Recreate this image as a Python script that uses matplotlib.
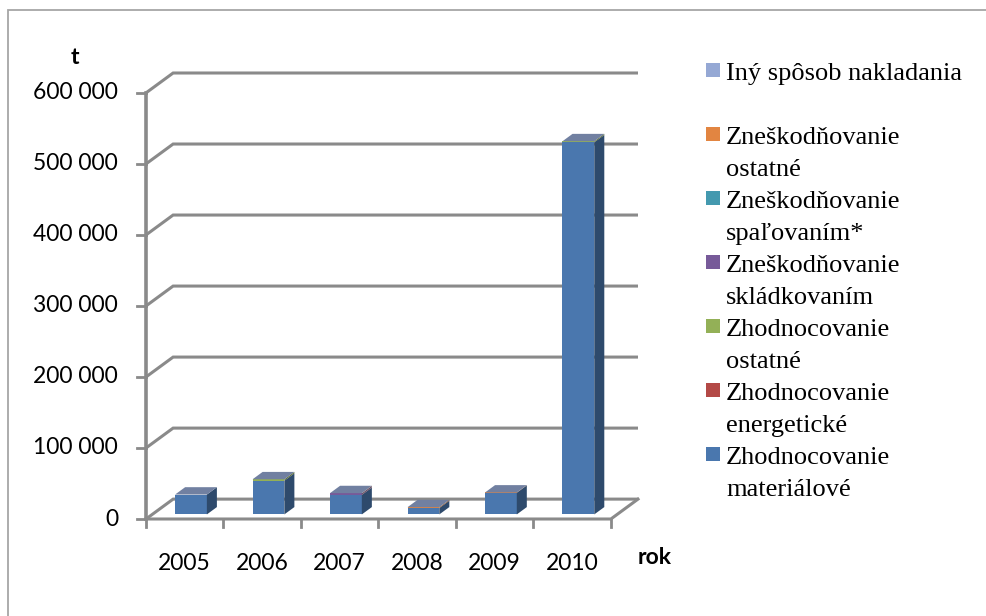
import matplotlib.pyplot as plt
from matplotlib.patches import Polygon, Rectangle
import numpy as np

# údaje (t)
years = ['2005', '2006', '2007', '2008', '2009', '2010']
zhod_material = [28000, 47500, 27500, 9000, 30500, 524000]
zhod_energ = [0, 0, 500, 0, 0, 0]
zhod_ostatne = [0, 2000, 0, 0, 0, 1500]
znes_skladk = [0, 0, 1500, 0, 0, 0]
znes_spal = [0, 0, 0, 0, 0, 0]
znes_ostatne = [0, 0, 500, 1200, 400, 0]
iny_sposob = [0, 0, 0, 0, 0, 0]

series = [
    ('Zhodnocovanie\nmateriálové', zhod_material, '#4A77AE'),
    ('Zhodnocovanie\nenergetické', zhod_energ, '#B34946'),
    ('Zhodnocovanie\nostatné', zhod_ostatne, '#93B057'),
    ('Zneškodňovanie\nskládkovaním', znes_skladk, '#775A99'),
    ('Zneškodňovanie\nspaľovaním*', znes_spal, '#4499AF'),
    ('Zneškodňovanie\nostatné', znes_ostatne, '#E28541'),
    ('Iný spôsob nakladania', iny_sposob, '#95A8D4'),
]
yticks = [0, 100000, 200000, 300000, 400000, 500000, 600000]
ytick_labels = ['0', '100 000', '200 000', '300 000', '400 000', '500 000', '600 000']


def shade(c, f):
    c = np.array(plt.matplotlib.colors.to_rgb(c))
    return tuple(np.clip(c * f, 0, 1))


W, H = 987, 616
fig = plt.figure(figsize=(W / 100, H / 100), dpi=100)
ax = fig.add_axes([146 / W, (H - 519) / H, (638 - 146) / W, (519 - 73) / H])
ax.set_xlim(-0.5, 5.85)
ax.set_ylim(0, 628000)
ax.axis('off')

plt.rcParams['font.family'] = ['Lato', 'DejaVu Sans']
grid = '#8a8a8a'
DX, DY = 0.35, 28000      # hĺbka grafu
F0, FD = 0.23, 0.37       # poloha a hĺbka stĺpca
BW = 0.41

# zadná stena - mriežka
for v, lab in zip(yticks, ytick_labels):
    ax.plot([-0.5, -0.5 + DX, 5.5 + DX], [v, v + DY, v + DY], color=grid, lw=2.2,
            clip_on=False, zorder=1, solid_joinstyle='miter', solid_capstyle='butt')
    ax.plot([-0.5 - 0.116, -0.5], [v, v], color=grid, lw=2.0, clip_on=False, zorder=1)
    ax.text(-0.861, v, lab, ha='right', va='center', fontsize=16.5)

# podlaha a os
ax.plot([-0.5, 5.5, 5.5 + DX], [0, 0, DY], color=grid, lw=2.2, clip_on=False, zorder=1,
        solid_joinstyle='miter')
ax.plot([-0.5, -0.5], [0, 600000], color=grid, lw=2.6, clip_on=False, zorder=2)
for i in range(7):
    ax.plot([i - 0.5, i - 0.5], [0, -11300], color=grid, lw=2.0, clip_on=False, zorder=1)
for i, y in enumerate(years):
    ax.text(i, -62000, y, ha='center', va='center', fontsize=16.5)

# stĺpce
x = np.arange(len(years)) + F0 * DX
ddx, ddy = FD * DX, FD * DY
bottom = np.zeros(len(years)) + F0 * DY
for name, vals, col in series:
    vals = np.array(vals, dtype=float)
    ax.bar(x, vals, width=BW, bottom=bottom, color=col, linewidth=0, zorder=3)
    for xi, b, h in zip(x, bottom, vals):
        x1 = xi + BW / 2
        ax.add_patch(Polygon([(x1, b), (x1 + ddx, b + ddy), (x1 + ddx, b + h + ddy), (x1, b + h)],
                             closed=True, facecolor=shade(col, 0.62), edgecolor='none', zorder=3))
    bottom = bottom + vals
top_col = shade(series[-1][2], 0.76)
for xi, t in zip(x, bottom):
    x0, x1 = xi - BW / 2, xi + BW / 2
    ax.add_patch(Polygon([(x0, t), (x1, t), (x1 + ddx, t + ddy), (x0 + ddx, t + ddy)],
                         closed=True, facecolor=top_col, edgecolor='none', zorder=4))

fig.text(75 / W, 1 - 57 / H, 't', ha='center', va='center', fontsize=16.5, fontweight='bold')
fig.text(655 / W, 1 - 558 / H, 'rok', ha='center', va='center', fontsize=16.5, fontweight='bold')

# legenda
for k, (name, vals, col) in enumerate(series[::-1]):
    cy = 70 + 64 * k
    fig.add_artist(Rectangle((706 / W, 1 - (cy + 7) / H), 14 / W, 14 / H, transform=fig.transFigure,
                             facecolor=col, edgecolor='none'))
    for j, line in enumerate(name.split('\n')):
        fig.text(726 / W, 1 - (cy + 10 + 32 * j) / H, line, ha='left', va='baseline',
                 fontsize=19, family=['Liberation Serif', 'DejaVu Serif'])

# rámik
fig.add_artist(Rectangle((8 / W, -0.1), 1.2, 1.1 - 9.5 / H, transform=fig.transFigure,
                         fill=False, edgecolor='#a6a6a6', lw=1.3))

fig.savefig('out.png', dpi=100)
